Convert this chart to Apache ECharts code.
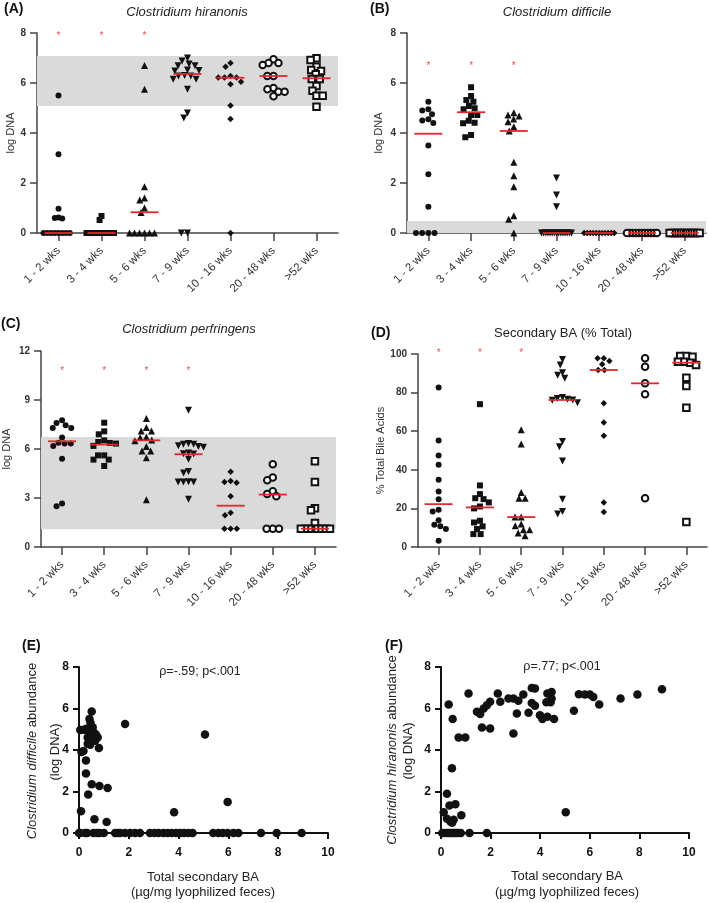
<!DOCTYPE html>
<html><head><meta charset="utf-8">
<script src="https://cdn.jsdelivr.net/npm/echarts@6/dist/echarts.min.js"></script>
<style>html,body{margin:0;padding:0;background:#fff}#c{width:709px;height:903px}</style>
</head><body><div id="c"></div>
<script>
const categories = ['1 - 2 wks','3 - 4 wks','5 - 6 wks','7 - 9 wks','10 - 16 wks','20 - 48 wks','>52 wks'];

// Panel A: Clostridium hiranonis (log DNA)
const hiranonisValues = [
  [5.5,3.15,0.97,0.62,0.58,0.6,0,0,0,0,0,0,0,0],
  [0.68,0.52,0,0,0,0,0,0,0,0,0,0,0,0],
  [6.7,5.75,1.85,1.4,1.32,1.0,0.82,0,0,0,0,0,0],
  [7.0,6.88,6.76,6.69,6.69,6.52,6.5,6.48,6.3,6.28,6.28,6.15,6.15,5.75,4.8,4.6,0,0],
  [6.8,6.65,6.28,6.22,6.22,6.22,6.05,5.95,5.1,4.56,0],
  [6.95,6.8,6.8,6.72,6.28,6.28,5.8,5.75,5.65,5.65,5.47],
  [6.99,6.92,6.65,6.52,6.48,6.35,6.16,6.16,5.88,5.69,5.49,5.49,5.05]
];
const hiranonisMedians = [0,0,0.83,6.36,6.21,6.28,6.19];
const hiranonisRange = [5.08,7.08];
const hiranonisStars = [0,1,2];
const hiranonisStarLevel = 8;

// Panel B: Clostridium difficile (log DNA)
const difficileValues = [
  [5.25,4.95,4.9,4.75,4.55,4.5,4.4,3.5,2.35,1.05,0,0,0,0],
  [5.83,5.48,5.32,5.25,5.08,4.99,4.95,4.72,4.72,4.49,4.41,4.39,3.92,3.83],
  [4.81,4.72,4.68,4.56,4.45,4.25,4.08,2.83,2.29,1.85,0.69,0.55,0],
  [2.2,1.52,1.05,0,0,0,0,0,0,0,0,0,0,0,0,0,0,0],
  [0,0,0,0,0,0,0,0,0,0,0],
  [0,0,0,0,0,0,0,0,0,0,0],
  [0,0,0,0,0,0,0,0,0,0,0,0,0]
];
const difficileMedians = [3.97,4.83,4.08,0,0,0,0];
const difficileRange = [0,0.48];
const difficileStars = [0,1,2];
const difficileStarLevel = 6.8;

// Panel C: Clostridium perfringens (log DNA)
const perfringensValues = [
  [7.76,7.59,7.45,7.29,7.29,6.7,6.39,6.33,6.33,6.19,5.41,2.66,2.49],
  [7.61,7.08,6.9,6.53,6.43,6.37,6.33,6.19,5.61,5.61,5.35,5.35,4.96],
  [7.86,7.31,7.1,7.1,6.74,6.7,6.55,6.5,6.15,5.88,5.88,5.47,2.9],
  [8.37,6.33,6.29,6.29,6.2,6.15,6.1,5.75,5.71,5.7,5.37,4.63,4.53,4.0,3.98,3.98,3.98,2.92],
  [4.6,4.04,3.98,3.93,3.1,2.1,1.94,1.12,1.12,1.12],
  [5.06,4.25,4.08,3.41,3.25,3.1,1.12,1.12,1.12],
  [5.25,3.98,2.37,2.25,1.47,1.12,1.12,1.12,1.12,1.12,1.12,1.12,1.12]
];
const perfringensMedians = [6.47,6.27,6.53,5.68,2.53,3.21,1.12];
const perfringensRange = [1.08,6.73];
const perfringensStars = [0,1,2,3];
const perfringensStarLevel = 10.92;

// Panel D: Secondary BA (% of total bile acids)
const secondaryBAValues = [
  [82.6,55.2,47.4,42.6,34.8,28.8,24.8,19.3,18.4,13.8,11.5,10.7,9.3,3.3],
  [74,31.9,27.4,25.3,24.8,23.1,21,20,13.6,12.7,10.7,9.3,6.7,6.7],
  [60.7,53.4,28.3,25.3,25.3,15.5,15.5,11.9,11,8.9,8.9,7.2,5.8],
  [97.2,94.3,90.3,89,87.4,77.5,77,76.5,76.2,76,74.8,54.6,52,44.6,24.8,18.4,17.1],
  [97.8,97.8,96.4,94.7,91.7,91.7,74.5,64.5,57.6,23.1,18.1],
  [97.8,93.4,84.8,79.1,25.3],
  [99,99,98.6,96,96,95.5,94.3,87.7,83.4,72.2,12.9]
];
const secondaryBAMedians = [22.2,20.5,15.5,76.2,91.7,84.8,95.5];
const secondaryBAStars = [0,1,2];
const secondaryBAStarLevel = 101.7;

// Panel E: total secondary BA (x) vs C. difficile log DNA (y)
const difficileVsBA = [
  [0.51,5.85],[0.42,5.5],[0.46,5.32],[0.55,5.1],[0.05,4.96],[0.2,4.98],[0.3,5.02],[0.38,4.85],[0.45,4.95],
  [0.5,4.75],[0.58,4.85],[0.62,4.65],[0.68,4.75],[0.75,4.6],[0.35,4.6],[0.42,4.45],[0.5,4.55],[0.58,4.5],
  [0.35,4.3],[0.45,4.25],[0.65,4.45],[0.8,4.1],[0.1,3.9],[0.18,3.95],[0.28,3.5],[0.28,2.87],[0.37,1.85],
  [0.51,2.35],[0.82,2.27],[1.15,2.17],[0.08,1.05],[0.62,0.66],[1.11,0.53],[1.85,5.25],[5.06,4.75],[5.97,1.5],[3.82,1.0],
  [0,0],[0.05,0],[0.24,0],[0.33,0],[0.58,0],[0.72,0],[0.82,0],[1.0,0],[1.45,0],[1.55,0],[1.65,0],[1.85,0],[2.05,0],
  [2.25,0],[2.45,0],[2.85,0],[3.03,0],[3.19,0],[3.39,0],[3.56,0],[3.72,0],[3.9,0],[4.06,0],[4.22,0],[4.39,0],[4.56,0],
  [5.39,0],[5.6,0],[5.77,0],[5.97,0],[6.2,0],[6.4,0],[7.31,0],[7.94,0],[8.94,0]
];

// Panel F: total secondary BA (x) vs C. hiranonis log DNA (y)
const hiranonisVsBA = [
  [0.31,6.19],[1.11,6.72],[0.47,5.49],[0.71,4.6],[0.98,4.6],[0.44,3.12],[0.24,1.89],[0.11,1.0],[0.34,1.33],[0.58,1.39],
  [0.24,0.69],[0.38,0.56],[0.51,0.64],[0.45,0.5],[0.82,0.85],
  [1.45,5.84],[1.58,5.73],[1.72,6.0],[1.85,6.16],[1.98,6.32],[1.65,5.09],[1.98,5.04],[2.29,6.72],[2.39,6.32],[2.72,6.48],
  [2.92,6.48],[3.12,6.37],[3.32,6.67],[3.06,5.76],[2.92,4.8],[3.53,5.79],[3.66,6.99],[3.79,6.96],[3.66,6.27],[3.79,6.13],
  [3.99,5.68],[4.09,5.49],[4.29,5.6],[4.29,6.72],[4.46,6.8],[4.25,6.3],[4.42,6.3],[4.46,6.48],[4.56,5.49],[5.36,5.89],
  [5.56,6.69],[5.8,6.67],[6.0,6.67],[6.14,6.56],[6.38,6.19],[7.24,6.48],[7.92,6.67],[8.91,6.93],[5.03,1.0],
  [0.05,0],[0.15,0],[0.25,0],[0.32,0],[0.4,0],[0.48,0],[0.55,0],[0.62,0],[0.7,0],[0.8,0],[1.15,0],[1.85,0]
];

const FONT = 'Liberation Sans, Arial, Helvetica, sans-serif';
const INK = '#111';
const AXIS = '#444';
const RED = '#e3262c';
const BAND = '#dadada';

const symbolDefs = [
  {symbol:'circle', size:6, rot:0},
  {symbol:'rect', size:6, rot:0},
  {symbol:'triangle', size:7, rot:0},
  {symbol:'triangle', size:7, rot:180},
  {symbol:'diamond', size:6.5, rot:0},
  {symbol:'emptyCircle', size:6.5, rot:0},
  {symbol:'emptyRect', size:6.5, rot:0}
];

const grids = [
  {left:37, top:33, width:301, height:200},
  {left:407, top:33, width:299, height:200},
  {left:41, top:351, width:295, height:196},
  {left:418, top:354, width:289, height:193},
  {left:79, top:667, width:249, height:166},
  {left:441, top:667, width:248, height:166}
].map(g => Object.assign({outerBoundsMode:'none', containLabel:false}, g));

function swarm(vals, ppu, d, maxHalf) {
  const order = vals.map((v,i)=>i).sort((a,b)=>vals[b]-vals[a]);
  const placed = [];
  const off = new Array(vals.length).fill(0);
  order.forEach(i => {
    const y = vals[i]*ppu;
    const forb = [];
    placed.forEach(p => {
      const dy = Math.abs(p.y - y);
      if (dy < d) { const w = Math.sqrt(d*d - dy*dy); forb.push([p.x - w, p.x + w]); }
    });
    const cands = [0];
    forb.forEach(f => cands.push(f[0], f[1]));
    cands.sort((a,b)=>(Math.abs(a)-Math.abs(b)) || (a-b));
    let x = 0;
    for (const c of cands) {
      if (forb.every(f => c <= f[0]+1e-6 || c >= f[1]-1e-6)) { x = c; break; }
    }
    placed.push({x, y});
    off[i] = x;
  });
  const m = Math.max(0, ...off.map(Math.abs));
  if (m > maxHalf) { const s = maxHalf/m; for (let k=0;k<off.length;k++) off[k]*=s; }
  return off;
}

const xAxes = [], yAxes = [], series = [];

function dotPanel(g, values, medians, range, stars, starLevel, yMin, yMax, yInt, yName, nameGap) {
  const ppu = grids[g].height/(yMax-yMin);
  xAxes.push({
    type:'category', gridIndex:g, data:categories, boundaryGap:true,
    axisLine:{show:true, onZero:false, lineStyle:{color:AXIS, width:1.5}},
    axisTick:{show:true, alignWithLabel:true, length:8, lineStyle:{color:AXIS, width:1.5}},
    axisLabel:{rotate:45, interval:0, fontSize:11.5, color:'#333', margin:16, fontFamily:FONT},
    splitLine:{show:false}
  });
  yAxes.push({
    type:'value', gridIndex:g, min:yMin, max:yMax, interval:yInt,
    axisLine:{show:true, lineStyle:{color:AXIS, width:1.5}},
    axisTick:{show:true, length:7, lineStyle:{color:AXIS, width:1.5}},
    axisLabel:{fontSize:10, fontWeight:'bold', color:'#333', margin:11, fontFamily:FONT},
    splitLine:{show:false},
    name:yName, nameLocation:'middle', nameGap:nameGap,
    nameTextStyle:{fontSize:11, color:'#333', fontFamily:FONT}
  });
  if (range) {
    series.push({
      type:'scatter', xAxisIndex:g, yAxisIndex:g, data:[], z:1, silent:true,
      markArea:{silent:true, itemStyle:{color:BAND, opacity:1}, data:[[{yAxis:range[0]},{yAxis:range[1]}]]}
    });
  }
  values.forEach((vals, c) => {
    const sd = symbolDefs[c];
    const off = swarm(vals, ppu, 6.2, 15);
    const empty = sd.symbol.indexOf('empty') === 0;
    series.push({
      type:'scatter', xAxisIndex:g, yAxisIndex:g, z:3, silent:true, clip:false,
      symbol:sd.symbol, symbolSize:sd.size, symbolRotate:sd.rot,
      itemStyle: empty ? {color:INK, borderColor:INK, borderWidth:1.4, opacity:1} : {color:INK, opacity:1},
      data: vals.map((v,i)=>({value:[c, v], symbolOffset:[off[i], 0]}))
    });
  });
  series.push({
    type:'scatter', xAxisIndex:g, yAxisIndex:g, z:5, silent:true, clip:false,
    symbol:'rect', symbolSize:[28,1.8], itemStyle:{color:RED, opacity:1},
    data: medians.map((m,c)=>[c, m])
  });
  series.push({
    type:'scatter', xAxisIndex:g, yAxisIndex:g, z:5, silent:true, clip:false,
    symbol:'circle', symbolSize:1, itemStyle:{color:'rgba(0,0,0,0)'},
    label:{show:true, formatter:'*', position:'inside', color:RED, fontSize:10, offset:[0,3], fontFamily:FONT},
    data: stars.map(c=>[c, starLevel])
  });
}

dotPanel(0, hiranonisValues, hiranonisMedians, hiranonisRange, hiranonisStars, hiranonisStarLevel, 0, 8, 2, 'log DNA', 20);
dotPanel(1, difficileValues, difficileMedians, difficileRange, difficileStars, difficileStarLevel, 0, 8, 2, 'log DNA', 23);
dotPanel(2, perfringensValues, perfringensMedians, perfringensRange, perfringensStars, perfringensStarLevel, 0, 12, 3, 'log DNA', 29);
dotPanel(3, secondaryBAValues, secondaryBAMedians, null, secondaryBAStars, secondaryBAStarLevel, 0, 100, 20, '% Total Bile Acids', 32);

function scatterPanel(g, pairs) {
  xAxes.push({
    type:'value', gridIndex:g, min:0, max:10, interval:2,
    axisLine:{show:true, onZero:false, lineStyle:{color:INK, width:2}},
    axisTick:{show:true, length:6, lineStyle:{color:INK, width:2}},
    axisLabel:{fontSize:12, fontWeight:'bold', color:INK, margin:14, fontFamily:FONT},
    splitLine:{show:false}
  });
  yAxes.push({
    type:'value', gridIndex:g, min:0, max:8, interval:2,
    axisLine:{show:true, onZero:false, lineStyle:{color:INK, width:2}},
    axisTick:{show:true, length:6, lineStyle:{color:INK, width:2}},
    axisLabel:{fontSize:12, fontWeight:'bold', color:INK, margin:10, fontFamily:FONT},
    splitLine:{show:false}
  });
  series.push({
    type:'scatter', xAxisIndex:g, yAxisIndex:g, z:3, silent:true, clip:false,
    symbol:'circle', symbolSize:8.5, itemStyle:{color:INK, opacity:1},
    data: pairs
  });
}
scatterPanel(4, difficileVsBA);
scatterPanel(5, hiranonisVsBA);

function txt(text, x, y, opts) {
  return {
    type:'text', x:x, y:y, rotation:(opts && opts.rot) || 0, silent:true,
    style:Object.assign({text:text, fill:'#222', font:'13px ' + FONT, align:'center', verticalAlign:'middle'}, (opts && opts.style) || {})
  };
}
const rich = {i:{fontStyle:'italic', fontSize:13, fontFamily:FONT, fill:'#222'}, n:{fontSize:13, fontFamily:FONT, fill:'#222'}};

const graphic = [
  txt('(A)', 4, 9, {style:{font:'bold 14px ' + FONT, align:'left', fill:'#111'}}),
  txt('Clostridium hiranonis', 187, 12, {style:{font:'italic 13px ' + FONT}}),
  txt('(B)', 370, 9, {style:{font:'bold 14px ' + FONT, align:'left', fill:'#111'}}),
  txt('Clostridium difficile', 557, 12, {style:{font:'italic 13px ' + FONT}}),
  txt('(C)', 1, 324, {style:{font:'bold 14px ' + FONT, align:'left', fill:'#111'}}),
  txt('Clostridium perfringens', 189, 329, {style:{font:'italic 13px ' + FONT}}),
  txt('(D)', 371, 333, {style:{font:'bold 14px ' + FONT, align:'left', fill:'#111'}}),
  txt('Secondary BA (% Total)', 563, 333, {style:{font:'13px ' + FONT}}),
  txt('(E)', 22, 646, {style:{font:'bold 14px ' + FONT, align:'left', fill:'#111'}}),
  txt('(F)', 385, 646, {style:{font:'bold 14px ' + FONT, align:'left', fill:'#111'}}),
  txt('ρ=-.59; p<.001', 200, 672, {style:{font:'12.5px ' + FONT}}),
  txt('ρ=.77; p<.001', 562, 667, {style:{font:'12.5px ' + FONT}}),
  txt('Total secondary BA', 203, 877, {style:{font:'13px ' + FONT}}),
  txt('(µg/mg lyophilized feces)', 203, 892, {style:{font:'13px ' + FONT}}),
  txt('Total secondary BA', 567, 876, {style:{font:'13px ' + FONT}}),
  txt('(µg/mg lyophilized feces)', 567, 892, {style:{font:'13px ' + FONT}}),
  txt('{i|Clostridium difficile}{n| abundance}', 32, 751, {rot:Math.PI/2, style:{rich:rich, font:'13px ' + FONT}}),
  txt('(log DNA)', 55, 752, {rot:Math.PI/2, style:{font:'13px ' + FONT}}),
  txt('{i|Clostridium hiranonis}{n| abundance}', 392, 750, {rot:Math.PI/2, style:{rich:rich, font:'13px ' + FONT}}),
  txt('(log DNA)', 408, 751, {rot:Math.PI/2, style:{font:'13px ' + FONT}})
];

const chart = echarts.init(document.getElementById('c'), null, {renderer:'canvas'});
chart.setOption({
  animation:false,
  backgroundColor:'#fff',
  textStyle:{fontFamily:FONT},
  grid:grids, xAxis:xAxes, yAxis:yAxes, series:series, graphic:graphic
});
</script>
</body></html>
